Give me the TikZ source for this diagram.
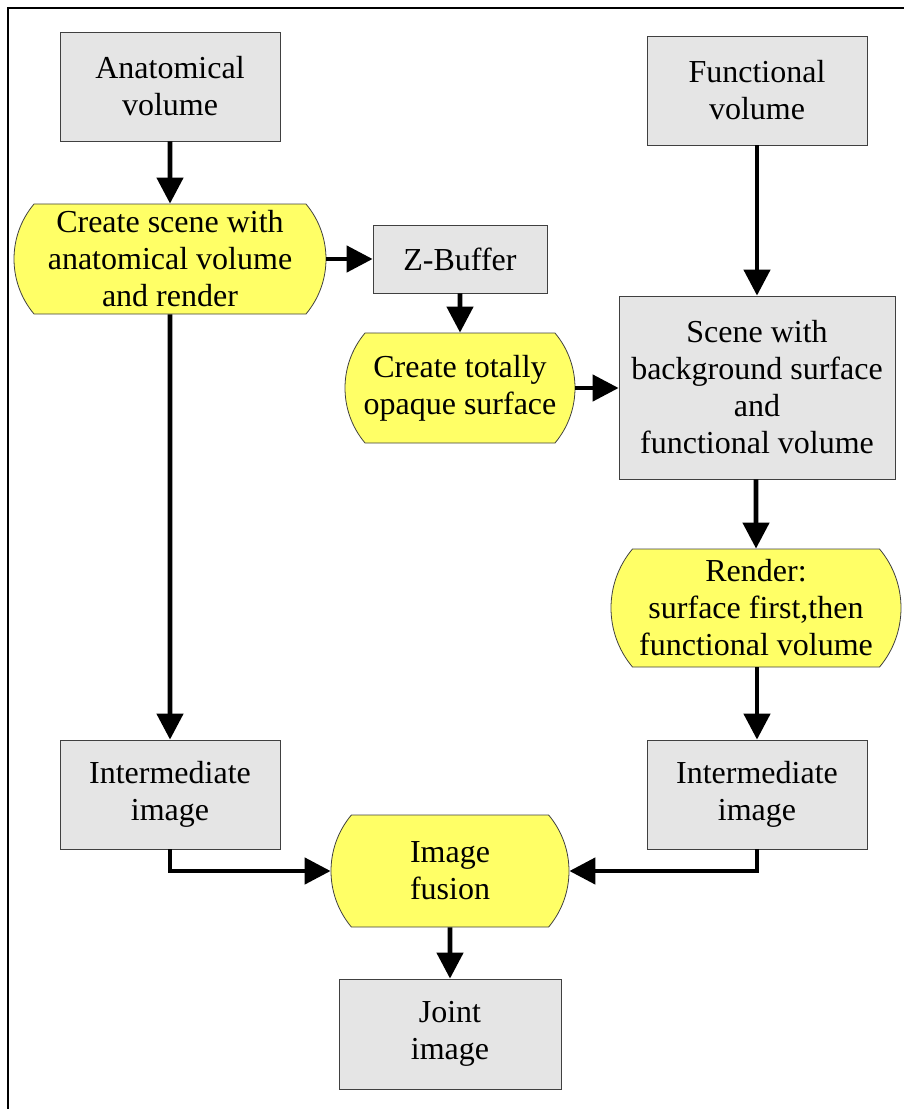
\documentclass[tikz,border=0pt]{standalone}
\usepackage{fontspec}
\setmainfont{Liberation Serif}
\usepackage{tikz}
\usetikzlibrary{positioning,arrows.meta,shapes.misc}
\definecolor{stepyel}{HTML}{FFFF66}
\tikzset{
  gbox/.style={rectangle, draw=black!75, fill=gray!20, align=center, inner sep=0pt},
  ybox/.style={rounded rectangle, rounded rectangle arc length=80, draw=black!75,
    fill=stepyel, align=center, inner sep=0pt},
  arr/.style={line width=2.3pt, -{Triangle[length=13pt,width=13pt]}}
}

\begin{document}
\begin{tikzpicture}[x=0.5pt, y=-0.5pt, every node/.style={font=\fontsize{16}{18.5}\selectfont}]
  \useasboundingbox (0,0) rectangle (904,1109);
  \draw[line width=1pt] (8,1109) -- (8,8) -- (904,8);
  % left column
  \node[gbox, minimum width=110pt, minimum height=54.5pt] (anat)   at (170,86.5)  {Anatomical\\volume};
  \node[ybox, minimum width=156pt, minimum height=55pt]   (create) at (170,259)   {Create scene with\\anatomical volume\\and render};
  \node[gbox, minimum width=110pt, minimum height=54.5pt] (interL) at (170,794.5) {Intermediate\\image};
  % middle
  \node[gbox, minimum width=87pt, minimum height=34pt]    (zbuf)   at (460,259)   {Z-Buffer};
  \node[ybox, minimum width=115pt, minimum height=55pt]   (opaque) at (460,388)   {Create totally\\opaque surface};
  \node[ybox, minimum width=119pt, minimum height=56pt]   (fusion) at (450,871)   {Image\\fusion};
  \node[gbox, minimum width=111pt, minimum height=55pt]   (joint)  at (450,1034)  {Joint\\image};
  % right column
  \node[gbox, minimum width=110pt, minimum height=54.5pt] (func)   at (757,90.5)  {Functional\\volume};
  \node[gbox, minimum width=138pt, minimum height=91.5pt] (scene)  at (757,387.5) {Scene with\\background surface\\and\\functional volume};
  \node[ybox, minimum width=145pt, minimum height=59pt]   (render) at (756,608)   {Render:\\surface first,then\\functional volume};
  \node[gbox, minimum width=110pt, minimum height=54.5pt] (interR) at (757,794.5) {Intermediate\\image};
  % arrows
  \draw[arr] (anat) -- (create);
  \draw[arr] (create.east) -- (zbuf.west);
  \draw[arr] (zbuf) -- (opaque);
  \draw[arr] (opaque.east) -- (scene.west |- opaque.east);
  \draw[arr] (func) -- (scene);
  \draw[arr] (scene.south -| render.north) -- (render);
  \draw[arr] (render.south -| interR.north) -- (interR);
  \draw[arr] (create) -- (interL);
  \draw[arr] (interL.south) |- (fusion.west);
  \draw[arr] (interR.south) |- (fusion.east);
  \draw[arr] (fusion) -- (joint);
\end{tikzpicture}
\end{document}
